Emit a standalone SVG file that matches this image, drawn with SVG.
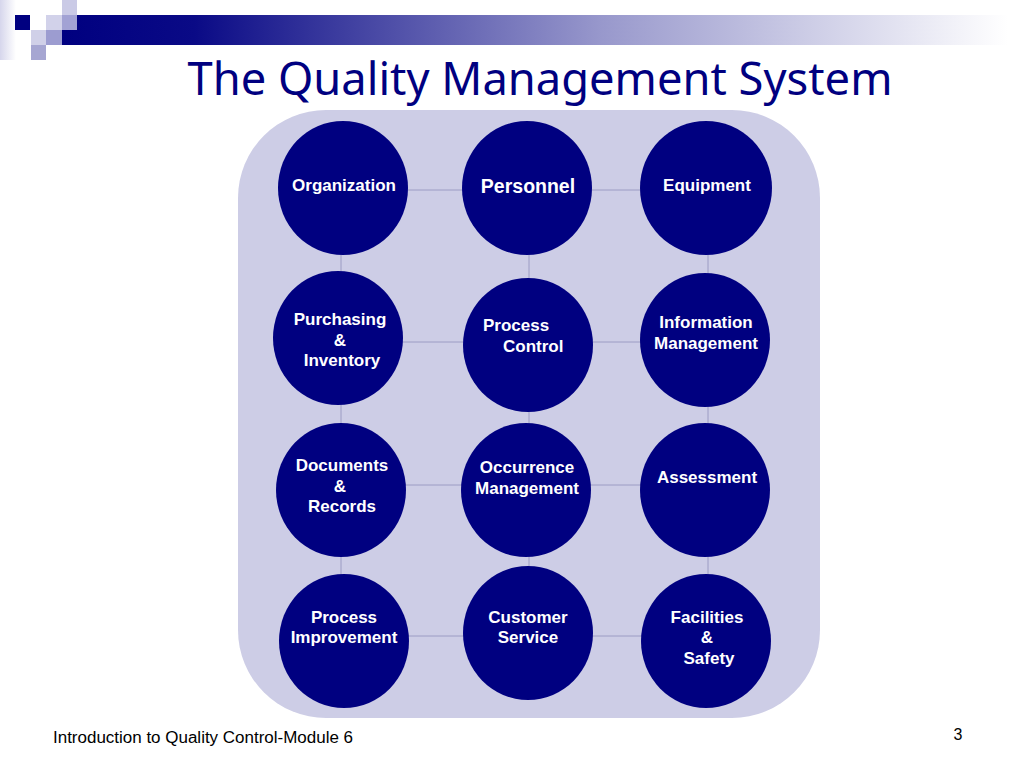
<svg xmlns="http://www.w3.org/2000/svg" width="1024" height="768" viewBox="0 0 1024 768">
<defs>
<linearGradient id="bar" x1="0" y1="0" x2="1" y2="0">
<stop offset="0" stop-color="#000080"/>
<stop offset="0.14" stop-color="#0a0a86"/>
<stop offset="0.57" stop-color="#9898cc"/>
<stop offset="1" stop-color="#ffffff"/>
</linearGradient>
<linearGradient id="strip" x1="0" y1="0" x2="1" y2="0">
<stop offset="0" stop-color="#d6d6ec"/>
<stop offset="1" stop-color="#ffffff"/>
</linearGradient>
<style>
.node{fill:#000080;}
.lbl{font-family:"Liberation Sans",Arial,sans-serif;font-weight:bold;font-size:17px;fill:#ffffff;text-anchor:middle;}
.conn line{stroke:#9c9cc4;stroke-width:1;}
</style>
</defs>
<rect width="1024" height="768" fill="#ffffff"/>
<!-- header decoration -->
<rect x="0" y="0" width="16" height="60" fill="url(#strip)"/>
<rect x="62" y="15" width="946" height="30" fill="url(#bar)"/>
<rect x="15" y="15" width="15" height="15" fill="#000080"/>
<rect x="62" y="0" width="15" height="15" fill="#cacae6"/>
<rect x="46" y="15" width="16" height="15" fill="#d2d2ea"/>
<rect x="62" y="15" width="15" height="15" fill="#a2a2d4"/>
<rect x="31" y="30" width="15" height="15" fill="#d0d0e8"/>
<rect x="46" y="30" width="16" height="15" fill="#9c9cd0"/>
<rect x="31" y="45" width="15" height="15" fill="#a6a6d2"/>
<text x="540" y="95" font-family="'Noto Sans','Open Sans',sans-serif" font-size="46" fill="#000080" text-anchor="middle" textLength="705" lengthAdjust="spacingAndGlyphs">The Quality Management System</text>
<rect x="238" y="110" width="582" height="608" rx="88" ry="88" fill="#cdcde6"/>
<g id="connectors" class="conn">
<line x1="343" y1="190" x2="527" y2="190"/>
<line x1="527" y1="190" x2="706" y2="190"/>
<line x1="338" y1="342" x2="528" y2="342"/>
<line x1="528" y1="342" x2="705" y2="342"/>
<line x1="341" y1="485" x2="526" y2="485"/>
<line x1="526" y1="485" x2="705" y2="485"/>
<line x1="344" y1="636" x2="528" y2="636"/>
<line x1="528" y1="636" x2="706" y2="636"/>
<line x1="341" y1="188" x2="341" y2="338"/>
<line x1="341" y1="338" x2="341" y2="490"/>
<line x1="341" y1="490" x2="341" y2="641"/>
<line x1="529" y1="188" x2="529" y2="345"/>
<line x1="529" y1="345" x2="529" y2="490"/>
<line x1="529" y1="490" x2="529" y2="633"/>
<line x1="708" y1="188" x2="708" y2="340"/>
<line x1="708" y1="340" x2="708" y2="490"/>
<line x1="708" y1="490" x2="708" y2="641"/>
</g>
<g id="organization"><ellipse class="node" cx="343" cy="188" rx="65" ry="67"/><text class="lbl" x="344" y="191">Organization</text></g>
<g id="personnel"><ellipse class="node" cx="527" cy="188" rx="65" ry="67"/><text class="lbl" x="528" y="193" style="font-size:19.5px">Personnel</text></g>
<g id="equipment"><ellipse class="node" cx="706" cy="188" rx="66" ry="67"/><text class="lbl" x="707" y="191">Equipment</text></g>
<g id="purchasing"><ellipse class="node" cx="338" cy="338" rx="65" ry="67"/><text class="lbl" x="340" y="325">Purchasing</text><text class="lbl" x="340" y="346">&amp;</text><text class="lbl" x="342" y="366">Inventory</text></g>
<g id="process-control"><ellipse class="node" cx="528" cy="345" rx="65" ry="67"/><text class="lbl" x="483" y="331" style="text-anchor:start">Process</text><text class="lbl" x="503" y="352" style="text-anchor:start">Control</text></g>
<g id="information-management"><ellipse class="node" cx="705" cy="340" rx="65" ry="67"/><text class="lbl" x="706" y="328">Information</text><text class="lbl" x="706" y="349">Management</text></g>
<g id="documents-records"><ellipse class="node" cx="341" cy="490" rx="65" ry="67"/><text class="lbl" x="342" y="471">Documents</text><text class="lbl" x="340" y="492">&amp;</text><text class="lbl" x="342" y="512">Records</text></g>
<g id="occurrence-management"><ellipse class="node" cx="526" cy="490" rx="65" ry="67"/><text class="lbl" x="527" y="473">Occurrence</text><text class="lbl" x="527" y="494">Management</text></g>
<g id="assessment"><ellipse class="node" cx="705" cy="490" rx="65" ry="67"/><text class="lbl" x="707" y="483">Assessment</text></g>
<g id="process-improvement"><ellipse class="node" cx="344" cy="641" rx="65" ry="67"/><text class="lbl" x="344" y="623">Process</text><text class="lbl" x="344" y="643">Improvement</text></g>
<g id="customer-service"><ellipse class="node" cx="528" cy="633" rx="65" ry="67"/><text class="lbl" x="528" y="623">Customer</text><text class="lbl" x="528" y="643">Service</text></g>
<g id="facilities-safety"><ellipse class="node" cx="706" cy="641" rx="65" ry="67"/><text class="lbl" x="707" y="623">Facilities</text><text class="lbl" x="707" y="643">&amp;</text><text class="lbl" x="709" y="664">Safety</text></g>
<text x="53" y="743" font-family="'Liberation Sans',Arial,sans-serif" font-size="16" fill="#000000" textLength="300" lengthAdjust="spacingAndGlyphs">Introduction to Quality Control-Module 6</text>
<text x="958" y="740" font-family="'Liberation Sans',Arial,sans-serif" font-size="16" fill="#000000" text-anchor="middle">3</text>
</svg>
